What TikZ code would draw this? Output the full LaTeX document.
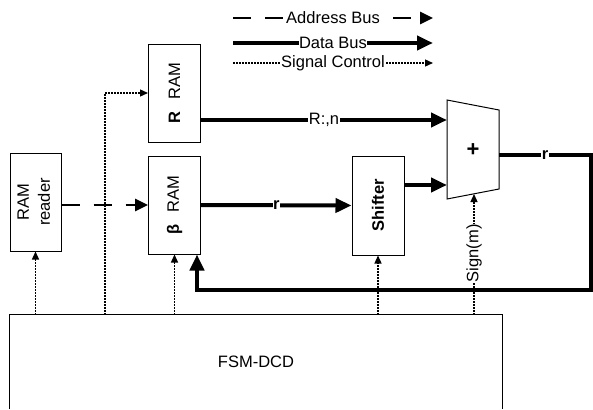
\documentclass[tikz,border=0pt]{standalone}
\usepackage{fontspec}
\setmainfont{Liberation Sans}
\usepackage{graphicx}
\usetikzlibrary{arrows.meta}
\begin{document}
\begin{tikzpicture}[x=1pt,y=-1pt, font=\fontsize{16.5}{19}\selectfont,
  box/.style={draw, line width=1pt, inner sep=0pt, minimum width=52pt, minimum height=98pt},
  data/.style={line width=4pt, -{Triangle[length=16pt,width=14pt]}},
  addr/.style={line width=2.8pt, dash pattern=on 18pt off 14pt, -{Triangle[length=13pt,width=12pt]}},
  sig/.style={line width=1.3pt, dash pattern=on 1.5pt off 1.5pt, -{Triangle[length=8pt,width=7pt]}},
  lbl/.style={fill=white, inner sep=0.5pt}]
\useasboundingbox (0,0) rectangle (593,409);

% legend
\coordinate (la1) at (233,18); \coordinate (la2) at (433,18);
\coordinate (ld1) at (233,43); \coordinate (ld2) at (433,43);
\coordinate (ls1) at (233,63); \coordinate (ls2) at (433,63);
\draw[addr] (la1) -- node[lbl]{Address Bus} (la2);
\draw[data] (ld1) -- node[lbl]{Data Bus} (ld2);
\draw[sig] (ls1) -- node[lbl]{Signal Control} (ls2);

% blocks
\node[box, minimum width=51pt] (reader) at (35.5,202) {\rotatebox{90}{\begin{tabular}{@{}c@{}}RAM\\[2pt]reader\end{tabular}}};
\node[box, minimum height=97pt] (rramR) at (174.5,93.5) {\rotatebox{90}{\textbf{R}\hspace{12pt}RAM}};
\node[box] (rramB) at (174.5,205) {\rotatebox{90}{\textbf{β}\hspace{12pt}RAM}};
\node[box, minimum height=99pt] (shifter) at (378,205.5) {\rotatebox{90}{\textbf{Shifter}}};

% adder
\draw[line width=1pt] (447,100) -- (499,110) -- (499,189) -- (447,199) -- cycle;
\node[font=\fontsize{22}{24}\selectfont\bfseries] (plus) at (473,150) {+};
\coordinate (ain1) at (447,120);
\coordinate (ain2) at (447,185);
\coordinate (aout) at (499,155);
\coordinate (abot) at (474,194);

% FSM
\node[minimum width=492pt, minimum height=94pt, inner sep=0pt] (fsm) at (256,362) {FSM-DCD};
\draw[line width=1pt] (fsm.south west) -- (fsm.north west) -- (fsm.north east) -- (fsm.south east);

% address bus
\draw[addr] (reader.east |- rramB.west) -- (rramB.west);

% data buses
\draw[data] (rramR.east |- ain1) -- node[lbl]{R:,n} (ain1);
\draw[data] (rramB.east) -- node[lbl]{\textbf{r}} (shifter.west);
\draw[data] (shifter.east |- ain2) -- (ain2);

% control signals
\coordinate (c1) at (105,93);
\draw[sig] (reader.south |- fsm.north) -- (reader.south);
\draw[sig] (c1 |- fsm.north) -- (c1) -- (rramR.west |- c1);
\draw[sig] (rramB.south |- fsm.north) -- (rramB.south);
\draw[sig] (shifter.south |- fsm.north) -- (shifter.south);
\draw[sig] (abot |- fsm.north) -- node[lbl, rotate=90, pos=0.51]{Sign(m)} (abot);

% feedback
\coordinate (fb1) at (591,155);
\coordinate (fb2) at (591,290);
\coordinate (fb3) at (197,290);
\draw[data] (aout) -- node[lbl]{\textbf{r}} (fb1) -- (fb2) -- (fb3) -- (fb3 |- rramB.south);
\end{tikzpicture}
\end{document}
